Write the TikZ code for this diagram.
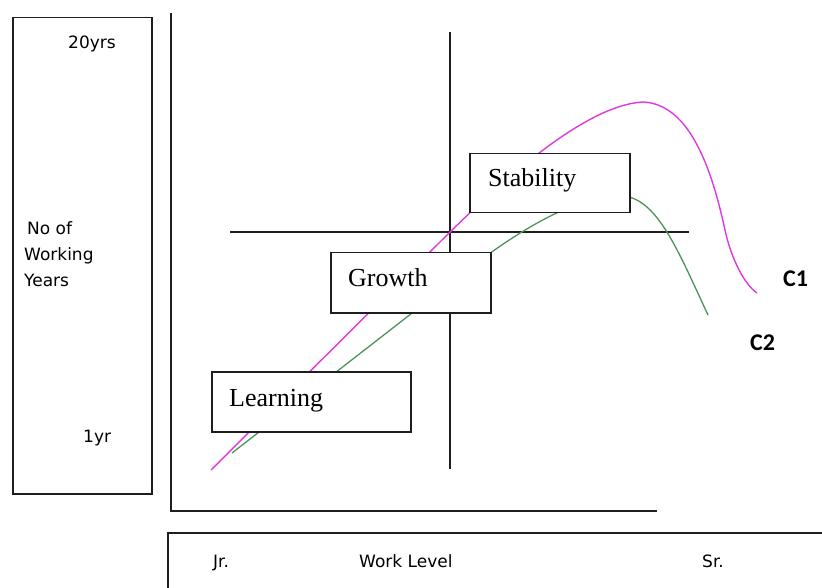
\documentclass[tikz,border=0pt]{standalone}
\usepackage{fontspec}
\setmainfont{Liberation Serif}
\newfontfamily\uisans{DejaVu Sans}
\newfontfamily\tagfont{Carlito}
\definecolor{careerpink}{RGB}{224,56,224}
\definecolor{careergreen}{RGB}{78,146,90}
\definecolor{inkline}{RGB}{30,30,30}
\begin{document}
\begin{tikzpicture}[x=1pt, y=-1pt,
  frame/.style={draw=inkline, line width=1.5pt},
  stagebox/.style={frame, fill=white, anchor=north west, inner sep=0pt},
  stagetext/.style={anchor=base west, inner sep=0pt, font=\fontsize{26}{30}\selectfont},
  axistext/.style={anchor=base west, inner sep=0pt, font=\uisans\fontsize{17}{20}\selectfont},
  curvetag/.style={anchor=base west, inner sep=0pt, font=\tagfont\bfseries\fontsize{24}{28}\selectfont},
  careerA/.style={draw=careerpink, line width=1.4pt},
  careerB/.style={draw=careergreen, line width=1.3pt},
]
\useasboundingbox (0,0) rectangle (822,588);

% y-axis caption panel
\node[frame, anchor=north west, minimum width=139pt, minimum height=476pt, inner sep=0pt] (ypanel) at (12,17) {};
\node[axistext] (top) at (68,49) {20yrs};
\node[axistext] (yl1) at (27,235) {No of};
\node[axistext] (yl2) at (24,261) {Working};
\node[axistext] (yl3) at (24,286) {Years};
\node[axistext] (bot) at (83,442) {1yr};

% axes
\coordinate (origin) at (171,511);
\coordinate (ytop) at (171,13);
\coordinate (xend) at (657,511);
\draw[frame] (ytop) -- (origin) -- (xend);

% x-axis caption panel (runs off the page)
\coordinate (xpl) at (168,588);
\coordinate (xptl) at (168,533);
\coordinate (xptr) at (822,533);
\draw[frame] (xpl) -- (xptl) -- (xptr);
\node[axistext] (jr) at (213,567) {Jr.};
\node[axistext] (wl) at (359,567) {Work Level};
\node[axistext] (sr) at (702,567) {Sr.};

% quadrant dividers
\coordinate (vtop) at (450,32);
\coordinate (vbot) at (450,469);
\coordinate (hl) at (230,232);
\coordinate (hr) at (689,232);
\draw[frame] (vtop) -- (vbot);
\draw[frame] (hl) -- (hr);

% career curves
\coordinate (a0) at (211,470);
\coordinate (a1) at (440,242);
\coordinate (apk) at (643,102);
\coordinate (a2) at (725,230);
\coordinate (aend) at (757,293);
\draw[careerA] (a0) -- (a1) .. controls (500,182) and (585,105) .. (apk)
  .. controls (690,104) and (712,170) .. (a2)
  .. controls (731.5,260) and (745,285) .. (aend);

\coordinate (b0) at (232,453);
\coordinate (b1) at (470,268);
\coordinate (b2) at (629,197);
\coordinate (bend) at (708,315);
\draw[careerB] (b0) -- (b1) .. controls (530,222) and (590,190) .. (b2)
  .. controls (660,205) and (680,255) .. (bend);

% stage boxes
\node[stagebox, minimum width=160pt, minimum height=59pt] (stab) at (469,153) {};
\node[stagetext] (stabt) at (488,187) {Stability};
\node[stagebox, minimum width=160pt, minimum height=60pt] (grow) at (330,252) {};
\node[stagetext] (growt) at (348,287) {Growth};
\node[stagebox, minimum width=199pt, minimum height=60pt] (learn) at (211,371) {};
\node[stagetext] (learnt) at (229,406) {Learning};

% curve tags
\node[curvetag] (c1) at (783,287) {C1};
\node[curvetag] (c2) at (750,350) {C2};
\end{tikzpicture}
\end{document}
